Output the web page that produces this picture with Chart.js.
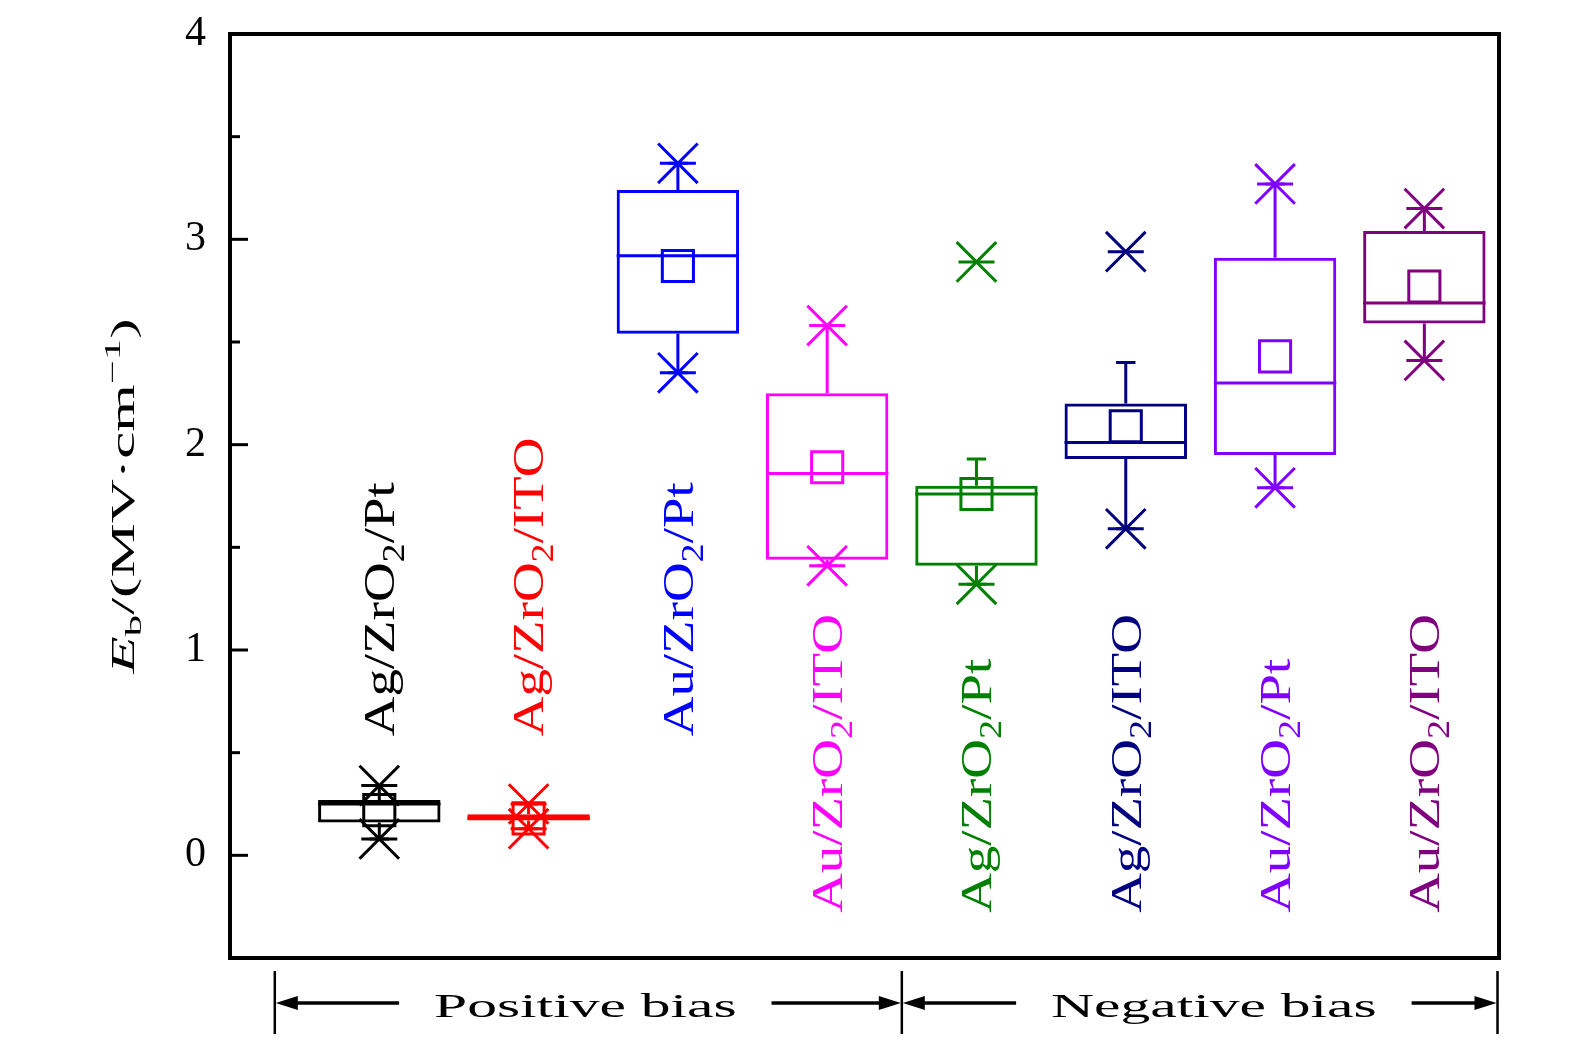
<!DOCTYPE html>
<html>
<head>
<meta charset="utf-8">
<title>Breakdown field of ZrO2 devices</title>
<script src="https://cdn.jsdelivr.net/npm/chart.js@4.4.1/dist/chart.umd.min.js"></script>
<style>
  html, body { margin: 0; padding: 0; background: #fff; }
</style>
</head>
<body>
<canvas id="boxChart" width="1575" height="1043"></canvas>
<script>
// device stacks, one box each
const devices = ['Ag/ZrO2/Pt', 'Ag/ZrO2/ITO', 'Au/ZrO2/Pt', 'Au/ZrO2/ITO',
                 'Ag/ZrO2/Pt', 'Ag/ZrO2/ITO', 'Au/ZrO2/Pt', 'Au/ZrO2/ITO'];
const positions = [1, 2, 3, 4, 5, 6, 7, 8];

// Eb in MV/cm
const q1          = [0.16, 0.17, 2.54, 1.44, 1.41, 1.93, 1.95, 2.59];
const median      = [0.25, 0.18, 2.92, 1.86, 1.76, 2.01, 2.30, 2.69];
const q3          = [0.27, 0.20, 3.24, 2.25, 1.80, 2.20, 2.91, 3.04];
const mean        = [0.22, 0.18, 2.87, 1.89, 1.76, 2.09, 2.43, 2.77];
const whiskerLow  = [0.08, 0.13, 2.35, 1.41, 1.32, 1.59, 1.79, 2.41];
const whiskerHigh = [0.34, 0.25, 3.37, 2.58, 1.93, 2.40, 3.27, 3.15];
const minVal      = [0.08, 0.13, 2.35, 1.41, 1.32, 1.59, 1.79, 2.41];
const maxVal      = [0.34, 0.25, 3.37, 2.58, 2.89, 2.94, 3.27, 3.15];

const colors = ['#000000', '#ff0000', '#0000ff', '#ff00ff', '#008000', '#000080', '#8000ff', '#800080'];

// where each rotated label starts (in Eb units)
const labelBase = [0.58, 0.58, 0.58, -0.28, -0.28, -0.28, -0.28, -0.28];

const groupNames = ['Positive bias', 'Negative bias'];
const groupEdges = [0.3, 4.5, 8.49];
const groupTextCenter = [2.38, 6.59];

const BOX_WIDTH = 0.82;
const CAP_WIDTH = 0.13;
const SERIF = '"Liberation Serif", "Times New Roman", serif';

function fontFor(run, size) {
  const s = (run.sub || run.sup) ? size * 0.7 : size;
  return (run.it ? 'italic ' : '') + s + 'px ' + SERIF;
}

function richWidth(ctx, runs, size) {
  let w = 0;
  runs.forEach(r => { ctx.font = fontFor(r, size); w += ctx.measureText(r.t).width; });
  return w;
}

function drawRich(ctx, runs, size, x0, baseY) {
  let x = x0;
  runs.forEach(r => {
    ctx.font = fontFor(r, size);
    const dy = r.sub ? size * 0.22 : (r.sup ? -size * 0.42 : 0);
    ctx.fillText(r.t, x, baseY + dy);
    x += ctx.measureText(r.t).width;
  });
}

// "Ag/ZrO2/Pt" -> runs with subscript digits
function labelRuns(label) {
  return label.split(/(\d)/).filter(s => s).map(s => /\d/.test(s) ? {t: s, sub: true} : {t: s});
}

function arrowLine(ctx, xFrom, xTip, y) {
  const dir = Math.sign(xTip - xFrom);
  ctx.beginPath();
  ctx.moveTo(xFrom, y);
  ctx.lineTo(xTip - dir * 18, y);
  ctx.stroke();
  ctx.beginPath();
  ctx.moveTo(xTip, y);
  ctx.lineTo(xTip - dir * 22, y - 7);
  ctx.lineTo(xTip - dir * 22, y + 7);
  ctx.closePath();
  ctx.fill();
}

// medians, whiskers and caps, from the data through the scales
const boxExtras = {
  id: 'boxExtras',
  afterDatasetsDraw(chart) {
    const ctx = chart.ctx;
    const xs = chart.scales.x, ys = chart.scales.y;
    ctx.save();
    ctx.lineWidth = 3;
    ctx.lineCap = 'butt';
    positions.forEach((p, i) => {
      ctx.strokeStyle = colors[i];
      const xc = xs.getPixelForValue(p);
      const xl = xs.getPixelForValue(p - BOX_WIDTH / 2);
      const xr = xs.getPixelForValue(p + BOX_WIDTH / 2);
      const ym = ys.getPixelForValue(median[i]);
      ctx.beginPath();
      ctx.moveTo(xl, ym); ctx.lineTo(xr, ym);
      // whiskers
      ctx.moveTo(xc, ys.getPixelForValue(q3[i])); ctx.lineTo(xc, ys.getPixelForValue(whiskerHigh[i]));
      ctx.moveTo(xc, ys.getPixelForValue(q1[i])); ctx.lineTo(xc, ys.getPixelForValue(whiskerLow[i]));
      // caps
      const cl = xs.getPixelForValue(p - CAP_WIDTH / 2), cr = xs.getPixelForValue(p + CAP_WIDTH / 2);
      [whiskerHigh[i], whiskerLow[i]].forEach(v => {
        const y = ys.getPixelForValue(v);
        ctx.moveTo(cl, y); ctx.lineTo(cr, y);
      });
      ctx.stroke();
    });
    ctx.restore();
  }
};

// frame, inner ticks and all the text
const decorations = {
  id: 'decorations',
  afterDraw(chart) {
    const ctx = chart.ctx;
    const area = chart.chartArea;
    const xs = chart.scales.x, ys = chart.scales.y;
    ctx.save();

    // inner ticks
    ctx.strokeStyle = '#000';
    ctx.lineWidth = 3;
    ys.ticks.forEach(t => {
      const y = ys.getPixelForValue(t.value);
      const len = Number.isInteger(t.value) ? 18 : 10;
      ctx.beginPath();
      ctx.moveTo(area.left, y); ctx.lineTo(area.left + len, y);
      ctx.stroke();
    });

    // frame
    ctx.lineWidth = 4;
    ctx.strokeRect(area.left, area.top, area.right - area.left, area.bottom - area.top);

    // rotated device labels
    const catSize = 45, catStretch = 1.22;
    ctx.textBaseline = 'alphabetic';
    ctx.textAlign = 'left';
    devices.forEach((d, i) => {
      ctx.save();
      ctx.fillStyle = colors[i];
      ctx.translate(xs.getPixelForValue(positions[i]), ys.getPixelForValue(labelBase[i]));
      ctx.rotate(-Math.PI / 2);
      ctx.scale(catStretch, 1);
      drawRich(ctx, labelRuns(d), catSize, 0, catSize * 0.33);
      ctx.restore();
    });

    // y axis title
    const titleRuns = [{t: 'E', it: true}, {t: 'b', sub: true}, {t: '/(MV\u00b7cm'}, {t: '\u22121', sup: true}, {t: ')'}];
    const tSize = 33, tStretch = 1.85;
    ctx.save();
    ctx.fillStyle = '#000';
    ctx.translate(area.left - 107, (area.top + area.bottom) / 2);
    ctx.rotate(-Math.PI / 2);
    ctx.scale(tStretch, 1);
    drawRich(ctx, titleRuns, tSize, -richWidth(ctx, titleRuns, tSize) / 2, tSize * 0.33);
    ctx.restore();

    // bias groups under the plot
    ctx.fillStyle = '#000';
    ctx.strokeStyle = '#000';
    const yArrow = area.bottom + 45;
    ctx.lineWidth = 2.5;
    groupEdges.forEach(v => {
      const x = xs.getPixelForValue(v);
      ctx.beginPath();
      ctx.moveTo(x, area.bottom + 13); ctx.lineTo(x, area.bottom + 76);
      ctx.stroke();
    });
    const gSize = 34, gStretch = 1.75;
    ctx.lineWidth = 3.5;
    groupNames.forEach((name, g) => {
      const run = [{t: name}];
      const w = richWidth(ctx, run, gSize) * gStretch;
      const xc = xs.getPixelForValue(groupTextCenter[g]);
      ctx.save();
      ctx.translate(xc - w / 2, area.bottom + 59);
      ctx.scale(gStretch, 1);
      drawRich(ctx, run, gSize, 0, 0);
      ctx.restore();
      const left = xs.getPixelForValue(groupEdges[g]);
      const right = xs.getPixelForValue(groupEdges[g + 1]);
      arrowLine(ctx, xc - w / 2 - 35, left + 1, yArrow);
      arrowLine(ctx, xc + w / 2 + 35, right - 1, yArrow);
    });

    ctx.restore();
  }
};

const extremePoints = positions.flatMap((p, i) => [{x: p, y: minVal[i]}, {x: p, y: maxVal[i]}]);
const extremeColors = colors.flatMap(c => [c, c]);

new Chart(document.getElementById('boxChart'), {
  type: 'bar',
  data: {
    datasets: [
      {
        type: 'scatter',
        label: 'extremes',
        data: extremePoints,
        pointStyle: 'crossRot',
        pointRadius: 28,
        pointBorderWidth: 3,
        pointBorderColor: extremeColors,
        pointBackgroundColor: 'transparent'
      },
      {
        type: 'scatter',
        label: 'extremes bar',
        data: extremePoints,
        pointStyle: 'line',
        pointRadius: 18,
        pointBorderWidth: 3,
        pointBorderColor: extremeColors,
        pointBackgroundColor: 'transparent'
      },
      {
        type: 'scatter',
        label: 'mean',
        data: positions.map((p, i) => ({x: p, y: mean[i]})),
        pointStyle: 'rect',
        pointRadius: 22,
        pointBorderWidth: 3,
        pointBorderColor: colors,
        pointBackgroundColor: 'transparent'
      },
      {
        type: 'bar',
        label: 'box',
        data: positions.map((p, i) => ({x: p, y: [q1[i], q3[i]]})),
        backgroundColor: 'transparent',
        borderColor: colors,
        borderWidth: 3,
        borderSkipped: false,
        barPercentage: BOX_WIDTH,
        categoryPercentage: 1,
        grouped: false
      }
    ]
  },
  options: {
    responsive: false,
    animation: false,
    layout: { padding: { top: 34, right: 76, bottom: 85, left: 0 } },
    plugins: {
      legend: { display: false },
      tooltip: { enabled: false }
    },
    scales: {
      x: {
        type: 'linear',
        min: 0,
        max: 8.5,
        offset: false,
        display: false,
        // one tick per box so the bar width follows the box spacing
        afterBuildTicks(scale) { scale.ticks = positions.map(v => ({value: v})); }
      },
      y: {
        min: -0.5,
        max: 4,
        afterFit(scale) {
          scale.width = 230;
          // let the layout padding alone decide the plot top/bottom
          scale.paddingTop = 0;
          scale.paddingBottom = 0;
        },
        grid: { display: false, drawTicks: false },
        border: { display: false },
        ticks: {
          stepSize: 0.5,
          padding: 24,
          color: '#000',
          font: { family: SERIF, size: 42 },
          callback: v => Number.isInteger(v) ? v : ''
        }
      }
    }
  },
  plugins: [boxExtras, decorations]
});
</script>
</body>
</html>
